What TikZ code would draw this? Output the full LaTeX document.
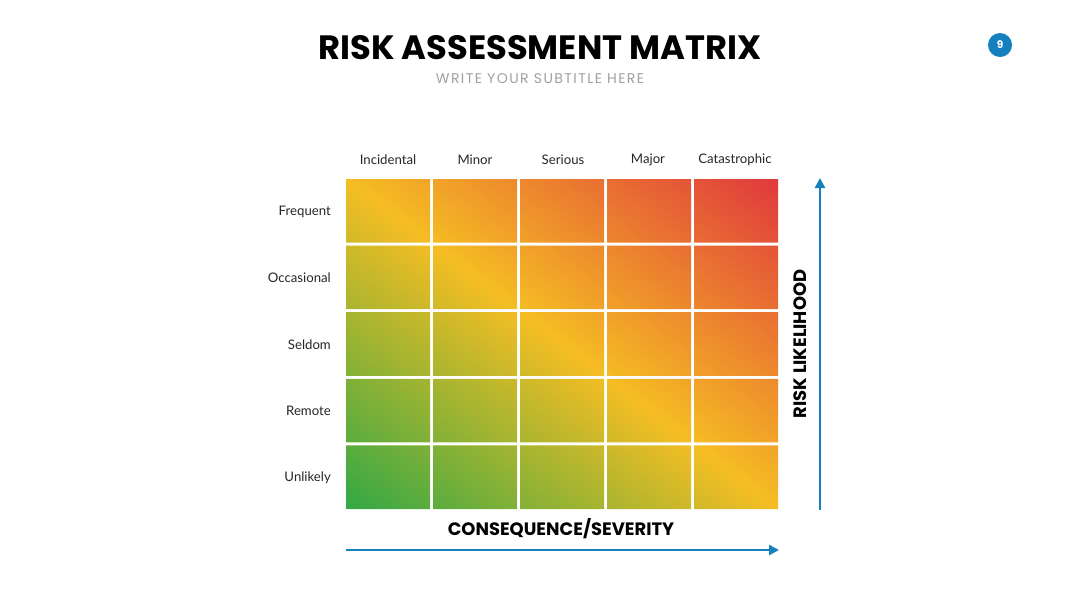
\documentclass[tikz,border=0pt]{standalone}
\usepackage{fontspec}
\setmainfont{Lato}
\newfontfamily\poppins{Poppins}
\usetikzlibrary{arrows.meta}
\definecolor{riskgreen}{HTML}{33A845}
\definecolor{riskyellow}{HTML}{F5BD23}
\definecolor{riskred}{HTML}{E0393D}
\definecolor{arrowblue}{HTML}{1580BE}
\definecolor{subgray}{HTML}{A0A0A0}
\begin{document}
\begin{tikzpicture}[x=0.2mm,y=-0.2mm,
  collabel/.style={font=\fontsize{7.5}{9}\selectfont,text=black!85},
  rowlabel/.style={font=\fontsize{7.5}{9}\selectfont,text=black!85,anchor=east},
  axislabel/.style={font=\poppins\bfseries\fontsize{10.2}{12}\selectfont},
  axisarrow/.style={draw=arrowblue,line width=0.5mm,-{Triangle[length=2mm,width=2mm]}}]
\useasboundingbox (0,0) rectangle (1080,608);
% title
\node(title) at (540,48)[font=\poppins\bfseries\fontsize{19.2}{22}\selectfont] {RISK ASSESSMENT MATRIX};
\node(subtitle) at (540,79)[font=\poppins\fontsize{8}{10}\selectfont\addfontfeatures{LetterSpace=10},text=subgray] {WRITE YOUR SUBTITLE HERE};
\node(page) at (1000,45)[shape=circle,fill=arrowblue,minimum size=4.8mm,inner sep=0pt,text=white,font=\poppins\bfseries\fontsize{6}{7}\selectfont] {9};
% matrix cells
\begin{scope}
\clip \foreach \c in {0,...,4} {\foreach \r in {0,...,4} {(346+87*\c,179+66.6*\r) rectangle ++(84,63.6)}};
\begin{scope}[transform canvas={rotate around={52.6:(562,344)}}]
\shade[left color=riskgreen,right color=riskred,middle color=riskyellow] (300,-200) rectangle (824,900);
\end{scope}
\end{scope}
% consequence labels
\node(incidental) at (388,160)[collabel] {Incidental};
\node(minor) at (475,160)[collabel] {Minor};
\node(serious) at (563,160)[collabel] {Serious};
\node(major) at (648,160)[collabel] {Major};
\node(catastrophic) at (735,160)[collabel] {Catastrophic};
% likelihood labels
\node(frequent) at (337,212)[rowlabel] {Frequent};
\node(occasional) at (337,278)[rowlabel] {Occasional};
\node(seldom) at (337,345)[rowlabel] {Seldom};
\node(remote) at (337,411)[rowlabel] {Remote};
\node(unlikely) at (337,478)[rowlabel] {Unlikely};
% axes
\node(severity) at (561,529)[axislabel] {CONSEQUENCE/SEVERITY};
\node(likelihood) at (800,344)[axislabel,rotate=90] {RISK LIKELIHOOD};
\coordinate(sevstart) at (346,550);
\coordinate(sevend) at (779,550);
\coordinate(likstart) at (820,510);
\coordinate(likend) at (820,178);
\path
  (sevstart)  edge[axisarrow]  (sevend)
  (likstart)  edge[axisarrow]  (likend);
\end{tikzpicture}
\end{document}
